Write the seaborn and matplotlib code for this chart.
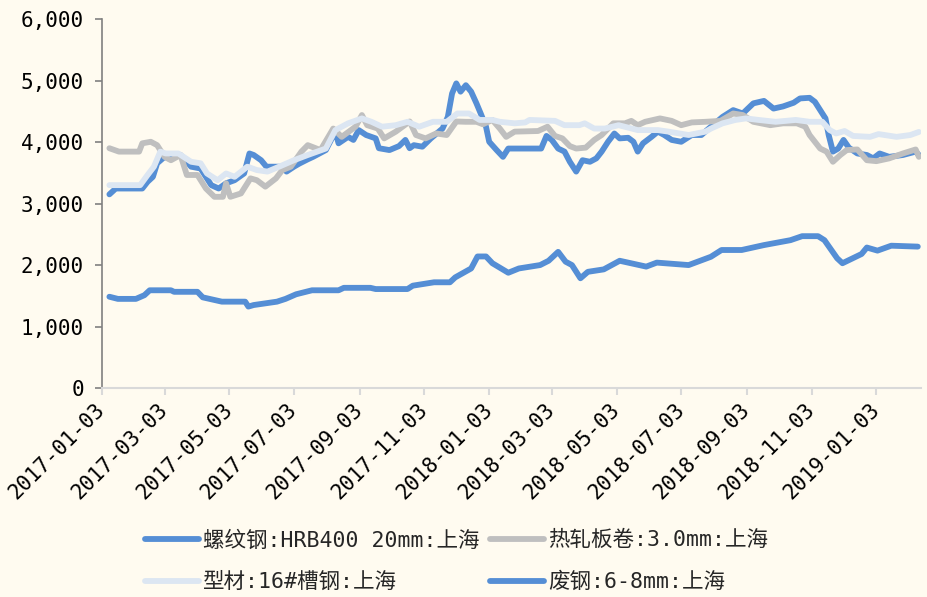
import pandas as pd
import seaborn as sns
import matplotlib.pyplot as plt
from matplotlib import font_manager

# 螺纹钢:HRB400 20mm:上海
rebar_dates = ["2017-01-10", "2017-01-16", "2017-02-10", "2017-02-15", "2017-02-20", "2017-02-24", "2017-03-03", "2017-03-07", "2017-03-18", "2017-03-28",
               "2017-04-06", "2017-04-16", "2017-04-23", "2017-04-30", "2017-05-08", "2017-05-17", "2017-05-22", "2017-05-26", "2017-06-02", "2017-06-07",
               "2017-06-21", "2017-06-26", "2017-07-03", "2017-07-08", "2017-07-16", "2017-07-21", "2017-08-02", "2017-08-11", "2017-08-14", "2017-08-23",
               "2017-08-28", "2017-09-02", "2017-09-09", "2017-09-18", "2017-09-21", "2017-10-01", "2017-10-10", "2017-10-16", "2017-10-20", "2017-10-24",
               "2017-11-01", "2017-11-09", "2017-11-20", "2017-11-25", "2017-11-29", "2017-12-03", "2017-12-07", "2017-12-12", "2017-12-17", "2017-12-22",
               "2017-12-26", "2017-12-31", "2018-01-03", "2018-01-10", "2018-01-16", "2018-01-21", "2018-02-21", "2018-02-26", "2018-03-03", "2018-03-09",
               "2018-03-15", "2018-03-20", "2018-03-26", "2018-04-01", "2018-04-08", "2018-04-14", "2018-04-19", "2018-04-25", "2018-05-01", "2018-05-06",
               "2018-05-14", "2018-05-19", "2018-05-23", "2018-05-28", "2018-06-05", "2018-06-11", "2018-06-17", "2018-06-24", "2018-07-03", "2018-07-13",
               "2018-07-22", "2018-07-28", "2018-08-11", "2018-08-21", "2018-08-30", "2018-09-09", "2018-09-19", "2018-09-28", "2018-10-07", "2018-10-17",
               "2018-10-23", "2018-11-01", "2018-11-06", "2018-11-11", "2018-11-16", "2018-11-19", "2018-11-23", "2018-11-28", "2018-12-03", "2018-12-08",
               "2018-12-16", "2018-12-25", "2018-12-31", "2019-01-06", "2019-01-15", "2019-01-28", "2019-02-09", "2019-02-12"]
rebar = [3150, 3245, 3245, 3355, 3435, 3655, 3760, 3735, 3790, 3600,
         3570, 3300, 3245, 3330, 3380, 3490, 3815, 3790, 3705, 3600,
         3600, 3520, 3600, 3650, 3720, 3760, 3870, 4170, 3980, 4085,
         4035, 4195, 4115, 4060, 3900, 3870, 3935, 4035, 3900, 3950,
         3925, 4060, 4220, 4410, 4790, 4955, 4820, 4925, 4820, 4630,
         4465, 4250, 4005, 3870, 3760, 3895, 3895, 4100, 4035, 3895,
         3845, 3680, 3520, 3705, 3680, 3735, 3845, 4005, 4140, 4060,
         4070, 4005, 3845, 3980, 4085, 4170, 4115, 4035, 4005, 4115,
         4115, 4205, 4410, 4520, 4465, 4630, 4670, 4545, 4580, 4640,
         4710, 4720, 4655, 4520, 4385, 4115, 3845, 3895, 4035, 3910,
         3815, 3790, 3735, 3815, 3760, 3790, 3845, 3790]

# 热轧板卷:3.0mm:上海
hrc_dates = ["2017-01-10", "2017-01-19", "2017-02-07", "2017-02-10", "2017-02-18", "2017-02-24", "2017-03-03", "2017-03-09", "2017-03-18", "2017-03-24",
             "2017-04-03", "2017-04-11", "2017-04-19", "2017-04-27", "2017-04-30", "2017-05-04", "2017-05-14", "2017-05-23", "2017-05-29", "2017-06-06",
             "2017-06-16", "2017-06-22", "2017-06-30", "2017-07-10", "2017-07-16", "2017-07-28", "2017-08-09", "2017-08-17", "2017-08-30", "2017-09-05",
             "2017-09-10", "2017-09-20", "2017-09-26", "2017-10-07", "2017-10-20", "2017-10-26", "2017-11-04", "2017-11-14", "2017-11-24", "2017-12-03",
             "2017-12-12", "2017-12-22", "2017-12-28", "2018-01-06", "2018-01-13", "2018-01-19", "2018-01-27", "2018-02-18", "2018-02-27", "2018-03-06",
             "2018-03-13", "2018-03-20", "2018-03-26", "2018-04-04", "2018-04-12", "2018-04-19", "2018-04-30", "2018-05-11", "2018-05-17", "2018-05-23",
             "2018-05-30", "2018-06-13", "2018-06-24", "2018-07-03", "2018-07-13", "2018-07-26", "2018-08-09", "2018-08-21", "2018-08-30", "2018-09-09",
             "2018-09-25", "2018-10-07", "2018-10-20", "2018-10-28", "2018-11-01", "2018-11-06", "2018-11-11", "2018-11-17", "2018-11-23", "2018-11-30",
             "2018-12-06", "2018-12-16", "2018-12-25", "2019-01-03", "2019-01-15", "2019-01-28", "2019-02-09", "2019-02-12"]
hrc = [3900, 3845, 3845, 3980, 4005, 3950, 3760, 3705, 3790, 3465,
       3465, 3245, 3110, 3110, 3330, 3110, 3165, 3410, 3380, 3275,
       3410, 3545, 3600, 3845, 3950, 3870, 4220, 4085, 4250, 4440,
       4275, 4220, 4060, 4170, 4335, 4115, 4060, 4140, 4115, 4335,
       4330, 4330, 4290, 4360, 4220, 4085, 4170, 4180, 4250, 4100,
       4060, 3935, 3895, 3910, 4035, 4115, 4305, 4305, 4345, 4275,
       4330, 4385, 4345, 4275, 4320, 4330, 4345, 4465, 4440, 4330,
       4275, 4305, 4305, 4250, 4115, 4005, 3895, 3845, 3680, 3790,
       3870, 3880, 3705, 3690, 3735, 3815, 3880, 3760]

# 型材:16#槽钢:上海
section_dates = ["2017-01-10", "2017-02-08", "2017-02-15", "2017-02-21", "2017-02-27", "2017-03-04", "2017-03-16", "2017-03-28", "2017-04-06", "2017-04-12",
                 "2017-04-22", "2017-04-30", "2017-05-08", "2017-05-20", "2017-05-29", "2017-06-08", "2017-06-19", "2017-07-03", "2017-07-16", "2017-08-02",
                 "2017-08-11", "2017-08-23", "2017-09-05", "2017-09-14", "2017-09-24", "2017-10-07", "2017-10-18", "2017-10-29", "2017-11-11", "2017-11-24",
                 "2017-12-04", "2017-12-15", "2017-12-25", "2018-01-06", "2018-01-13", "2018-01-27", "2018-02-06", "2018-02-10", "2018-03-06", "2018-03-15",
                 "2018-03-29", "2018-04-03", "2018-04-12", "2018-04-22", "2018-05-05", "2018-05-23", "2018-06-11", "2018-06-21", "2018-07-10", "2018-07-26",
                 "2018-07-31", "2018-08-11", "2018-08-23", "2018-09-02", "2018-09-14", "2018-09-30", "2018-10-19", "2018-11-01", "2018-11-13", "2018-11-20",
                 "2018-11-26", "2018-12-04", "2018-12-12", "2018-12-28", "2019-01-05", "2019-01-22", "2019-02-04", "2019-02-12"]
section = [3300, 3300, 3465, 3600, 3845, 3815, 3815, 3680, 3655, 3490,
           3380, 3490, 3435, 3600, 3545, 3520, 3600, 3705, 3790, 3895,
           4195, 4305, 4385, 4330, 4250, 4275, 4330, 4250, 4330, 4330,
           4465, 4465, 4360, 4360, 4330, 4305, 4320, 4360, 4345, 4275,
           4275, 4305, 4220, 4220, 4275, 4195, 4195, 4170, 4115, 4170,
           4220, 4305, 4360, 4385, 4360, 4330, 4360, 4330, 4330, 4195,
           4140, 4180, 4100, 4085, 4130, 4085, 4115, 4165]

# 废钢:6-8mm:上海
scrap_dates = ["2017-01-10", "2017-01-18", "2017-02-04", "2017-02-12", "2017-02-17", "2017-03-09", "2017-03-12", "2017-04-03", "2017-04-08", "2017-04-26",
               "2017-05-18", "2017-05-21", "2017-05-26", "2017-06-17", "2017-06-25", "2017-07-05", "2017-07-20", "2017-08-14", "2017-08-19", "2017-09-13",
               "2017-09-18", "2017-10-18", "2017-10-23", "2017-11-12", "2017-11-27", "2017-12-02", "2017-12-17", "2017-12-23", "2017-12-31", "2018-01-06",
               "2018-01-21", "2018-01-31", "2018-02-20", "2018-02-28", "2018-03-09", "2018-03-16", "2018-03-22", "2018-03-30", "2018-04-06", "2018-04-21",
               "2018-05-06", "2018-05-31", "2018-06-10", "2018-07-10", "2018-07-31", "2018-08-10", "2018-08-29", "2018-09-19", "2018-10-14", "2018-10-25",
               "2018-11-09", "2018-11-15", "2018-11-27", "2018-12-02", "2018-12-20", "2018-12-25", "2019-01-04", "2019-01-17", "2019-02-11"]
scrap = [1485, 1450, 1450, 1510, 1590, 1590, 1565, 1565, 1475, 1405,
         1405, 1325, 1350, 1405, 1450, 1525, 1590, 1590, 1630, 1630,
         1610, 1610, 1665, 1720, 1720, 1800, 1945, 2140, 2140, 2030,
         1875, 1945, 2000, 2070, 2215, 2055, 2000, 1785, 1890, 1930,
         2070, 1975, 2040, 2000, 2135, 2245, 2245, 2325, 2405, 2470,
         2470, 2405, 2110, 2030, 2180, 2285, 2235, 2315, 2300]

tick_dates = ["2017-01-03", "2017-03-03", "2017-05-03", "2017-07-03", "2017-09-03", "2017-11-03",
              "2018-01-03", "2018-03-03", "2018-05-03", "2018-07-03", "2018-09-03", "2018-11-03", "2019-01-03"]

bg = "#FFFBF0"
sns.set_theme(style="white")
names = {f.name for f in font_manager.fontManager.ttflist}
if "Noto Sans Mono CJK SC" in names:
    fam = ["Noto Sans Mono CJK SC", "DejaVu Sans"]
    fs = 16.5
else:
    fam = ["DejaVu Sans Mono", "Noto Sans CJK SC"]
    fs = 15.5
plt.rcParams["font.family"] = fam
plt.rcParams["axes.unicode_minus"] = False

fig = plt.figure(figsize=(9.27, 5.97), dpi=100, facecolor=bg)
ax = fig.add_axes([0.110, 0.350, 0.8835, 0.618], facecolor=bg)

series = [
    (rebar_dates, rebar, "#558ED5", "螺纹钢:HRB400 20mm:上海"),
    (hrc_dates, hrc, "#BFBFBF", "热轧板卷:3.0mm:上海"),
    (section_dates, section, "#DCE6F2", "型材:16#槽钢:上海"),
    (scrap_dates, scrap, "#558ED5", "废钢:6-8mm:上海"),
]
for d, v, c, lab in series:
    sns.lineplot(x=pd.to_datetime(d), y=v, ax=ax, color=c, linewidth=4.2,
                 label=lab, solid_capstyle="round", solid_joinstyle="round")

ax.set_xlim(pd.Timestamp("2017-01-03"), pd.Timestamp("2019-02-14"))
ax.set_ylim(0, 6000)
ax.set_yticks(range(0, 6001, 1000))
ax.set_yticklabels([f"{v:,}" for v in range(0, 6001, 1000)], fontsize=fs - 0.5)
ax.set_xticks(pd.to_datetime(tick_dates))
ax.set_xticklabels(tick_dates, rotation=45, ha="right", va="center",
                   rotation_mode="anchor", fontsize=fs - 0.5)
ax.set_xlabel("")
ax.set_ylabel("")

for s in ["top", "right"]:
    ax.spines[s].set_visible(False)
ax.spines["left"].set_color("#808080")
ax.spines["left"].set_linewidth(1.2)
ax.spines["bottom"].set_color("#D9D9D9")
ax.spines["bottom"].set_linewidth(1.5)
ax.tick_params(axis="y", left=True, length=5, width=1.2, color="#808080", pad=8, labelcolor="black")
ax.tick_params(axis="x", bottom=True, length=5, width=1.5, color="#D9D9D9", pad=8, labelcolor="black")
ax.grid(False)

# legend fills column-wise, so order entries to read row-wise like the original
h, l = ax.get_legend_handles_labels()
order = [0, 2, 1, 3]
ax.legend([h[i] for i in order], [l[i] for i in order],
          loc="upper left", bbox_to_anchor=(145 / 927, 1 - 530 / 597),
          bbox_transform=fig.transFigure, ncol=2, frameon=False,
          handlelength=2.5, handletextpad=0.2, columnspacing=0.5,
          borderpad=0, borderaxespad=0, labelspacing=1.0, fontsize=fs)

fig.savefig("out.png", dpi=100, facecolor=bg)
